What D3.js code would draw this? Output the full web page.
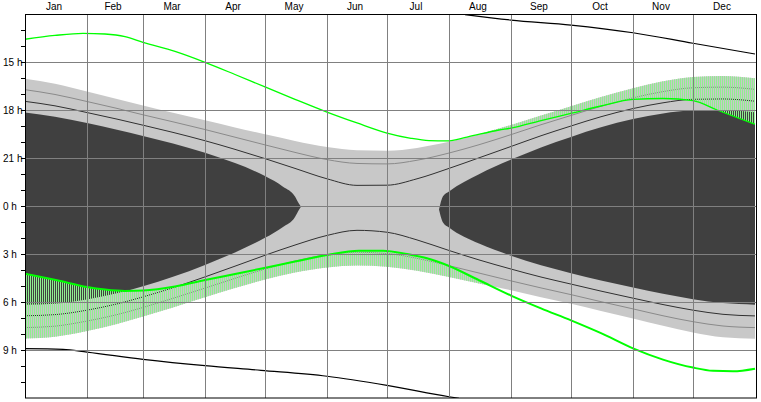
<!DOCTYPE html>
<html><head><meta charset="utf-8">
<script src="https://cdn.jsdelivr.net/npm/d3@7"></script>
<style>html,body{margin:0;padding:0;background:#fff;overflow:hidden;} svg{display:block;} text{font-family:"Liberation Sans",Arial,sans-serif;fill:#000;}</style>
</head><body><svg id="c" width="761" height="402"></svg>
<script>
// ---- data (day of year, Jan 1 = 0; clock hours) ----
const months = ["Jan","Feb","Mar","Apr","May","Jun","Jul","Aug","Sep","Oct","Nov","Dec"];
const monthStarts = [0,31,59,90,120,151,181,212,243,273,304,334,365];
const hourTicks = [13,14,15,16,17,18,19,20,21,22,23,24,25,26,27,28,29,30,31,32,33,34,35];
const labelHours = [15,18,21,24,27,30,33];
const hourLabels = ["15 h","18 h","21 h","0 h","3 h","6 h","9 h"];

const days = [0,15,31,46,59,74,90,105,120,135,151,166,181,196,212,227,243,258,273,288,304,319,334,349,365];
const sunset = [16.04,16.36,16.85,17.31,17.72,18.17,18.64,19.09,19.52,19.93,20.31,20.51,20.54,20.37,19.99,19.52,18.94,18.35,17.77,17.19,16.64,16.21,15.94,15.88,16.02];
const civilDusk = [16.73,17.03,17.47,17.90,18.30,18.74,19.22,19.70,20.18,20.65,21.10,21.34,21.37,21.14,20.69,20.17,19.54,18.92,18.34,17.77,17.24,16.85,16.61,16.57,16.71];
const nauticalDusk = [17.46,17.74,18.16,18.57,18.95,19.40,19.92,20.46,21.04,21.65,22.30,22.71,22.70,22.30,21.65,20.99,20.28,19.61,19.00,18.42,17.91,17.55,17.33,17.31,17.45];
const sunrise = [8.28,8.17,7.82,7.38,6.91,6.34,5.71,5.13,4.59,4.16,3.84,3.72,3.80,4.04,4.43,4.84,5.27,5.70,6.11,6.56,7.03,7.49,7.90,8.20,8.29];
const civilDawn = [7.60,7.51,7.19,6.79,6.34,5.77,5.13,4.52,3.94,3.44,3.05,2.89,2.97,3.27,3.73,4.19,4.68,5.12,5.54,5.98,6.43,6.86,7.23,7.50,7.60];
const nauticalDawn = [6.86,6.79,6.51,6.12,5.68,5.11,4.43,3.76,3.08,2.44,1.84,1.52,1.64,2.12,2.78,3.37,3.94,4.44,4.88,5.32,5.76,6.16,6.51,6.77,6.87];

const astroDaysA = [0,15,31,46,59,74,90,105,120,129,135,137,138];
const astroDuskA = [18.16,18.42,18.82,19.23,19.62,20.09,20.67,21.32,22.13,22.79,23.40,23.86,0.05];
const astroDawnA = [6.17,6.11,5.84,5.46,5.01,4.42,3.68,2.90,1.99,1.31,0.69,0.23,0.05];
const astroDaysB = [207,209,212,227,243,258,273,288,304,319,334,349,365];
const astroDuskB = [0.22,23.39,23.09,22.01,21.10,20.34,19.68,19.08,18.57,18.22,18.02,18.00,18.14];
const astroDawnB = [0.22,1.03,1.34,2.35,3.11,3.71,4.20,4.66,5.10,5.49,5.83,6.07,6.17];

const planetSetDays = [0,15,29,40,50,59,75,90,105,120,135,151,166,181,193,202,211,221,237,243,258,273,288,304,319,334,346,365];
const planetSet = [13.58,13.34,13.21,13.25,13.41,13.77,14.34,15.02,15.78,16.56,17.33,18.13,18.81,19.44,19.77,19.91,19.93,19.69,19.25,19.13,18.66,18.21,17.75,17.34,17.28,17.42,18.0,18.89];
const planetRiseDays = [0,16,31,40,50,59,75,90,105,119,135,151,167,179,191,201,212,227,243,258,273,288,304,319,334,344,354,365];
const planetRise = [4.23,4.64,5.06,5.22,5.31,5.28,5.03,4.63,4.25,3.89,3.47,3.06,2.79,2.79,3.0,3.27,3.75,4.64,5.6,6.4,7.15,7.95,8.9,9.6,10.1,10.3,10.33,10.17];

const objMorningDays = [0,19,31,59,90,118,151,181,212,217];
const objMorning = [8.92,8.96,9.13,9.58,9.98,10.27,10.64,11.21,11.92,12.02];
const objEveningDays = [220,243,273,304,334,365];
const objEvening = [12.04,12.38,12.69,13.17,13.83,14.5];

// ---- drawing ----
const svg = d3.select("#c");
const L = 25, R = 756, T = 14, B = 398;
const x = d3.scaleLinear().domain([0,365]).range([25,755]);
const y = d3.scaleLinear().domain([12,36]).range([T,B]);
const ev = h => y(h < 12 ? h + 24 : h);
const mo = h => y(h + 24);
const curve = d3.curveMonotoneX;
const idx = a => a.map((_, i) => i);

const defs = svg.append("defs");
defs.append("clipPath").attr("id","plot").append("rect")
  .attr("x",L).attr("y",T).attr("width",R-L).attr("height",B-T);

function clipArea(id, dd, top, bottom){
  defs.append("clipPath").attr("id",id).append("path")
    .attr("d", d3.area().curve(curve).x(i=>x(dd[i])).y0(top).y1(bottom)(idx(dd)));
}
// evening hatch: below sunset and above planet set
clipArea("belowSunset", days, i=>ev(sunset[i]), ()=>B+2);
clipArea("aboveSet", planetSetDays, ()=>T-2, i=>ev(planetSet[i]));
// morning hatch: below planet rise and above sunrise
clipArea("belowRise", planetRiseDays, i=>mo(planetRise[i]), ()=>B+2);
clipArea("aboveSunrise", days, ()=>T-2, i=>mo(sunrise[i]));

const g = svg.append("g").attr("clip-path","url(#plot)");

// night (sunset..sunrise)
g.append("path").attr("fill","#c8c8c8")
  .attr("d", d3.area().curve(curve).x(i=>x(days[i])).y0(i=>mo(sunrise[i])).y1(i=>ev(sunset[i]))(idx(days)));
// astronomical night
[[astroDaysA,astroDuskA,astroDawnA],[astroDaysB,astroDuskB,astroDawnB]].forEach(([dd,dk,dw])=>{
  g.append("path").attr("fill","#404040")
    .attr("d", d3.area().curve(curve).x(i=>x(dd[i])).y0(i=>mo(dw[i])).y1(i=>ev(dk[i]))(idx(dd)));
});
// twilight lines
const line = (dd, vals, f) => d3.line().curve(curve).x(i=>x(dd[i])).y(i=>f(vals[i]))(idx(dd));
g.append("path").attr("fill","none").attr("stroke","#8a8a8a").attr("stroke-width",1).attr("d", line(days, civilDusk, ev));
g.append("path").attr("fill","none").attr("stroke","#8a8a8a").attr("stroke-width",1).attr("d", line(days, civilDawn, mo));
g.append("path").attr("fill","none").attr("stroke","#303030").attr("stroke-width",1).attr("d", line(days, nauticalDusk, ev));
g.append("path").attr("fill","none").attr("stroke","#303030").attr("stroke-width",1).attr("d", line(days, nauticalDawn, mo));

// hatch: 1px light-green columns every 2px (one per day column)
const cols = d3.range(L + 1, R, 2);
function hatch(c1, c2){
  const hg = g.append("g").attr("clip-path","url(#"+c1+")").append("g").attr("clip-path","url(#"+c2+")");
  hg.selectAll("rect").data(cols).join("rect")
    .attr("x", d=>d).attr("y",T).attr("width",1).attr("height",B-T)
    .attr("fill","#90ee90").attr("shape-rendering","crispEdges");
}
hatch("belowSunset","aboveSet");
hatch("belowRise","aboveSunrise");

// grid
const grid = svg.append("g").attr("stroke","#808080").attr("stroke-width",1).attr("shape-rendering","crispEdges");
monthStarts.slice(1,12).forEach(d=>{
  const px = Math.round(x(d)) + 0.5;
  grid.append("line").attr("x1",px).attr("x2",px).attr("y1",T).attr("y2",B);
});
labelHours.forEach(h=>{
  const py = Math.round(y(h)) + 0.5;
  grid.append("line").attr("x1",L).attr("x2",R).attr("y1",py).attr("y2",py);
});

// object lines
g.append("path").attr("fill","none").attr("stroke","#000").attr("stroke-width",1.2).attr("d", line(objMorningDays, objMorning, mo));
g.append("path").attr("fill","none").attr("stroke","#000").attr("stroke-width",1.2).attr("d", line(objEveningDays, objEvening, ev));
// planet lines
g.append("path").attr("fill","none").attr("stroke","#00ff00").attr("stroke-width",1.3).attr("d", line(planetSetDays, planetSet, ev));
g.append("path").attr("fill","none").attr("stroke","#00ff00").attr("stroke-width",2).attr("d", line(planetRiseDays, planetRise, mo));

// frame
svg.append("rect").attr("x",L+0.5).attr("y",T+0.5).attr("width",R-L).attr("height",B-T-0.5)
  .attr("fill","none").attr("stroke","#000").attr("stroke-width",1);

// y ticks and labels
const ax = svg.append("g");
hourTicks.forEach(h=>{
  const py = Math.round(y(h)) + 0.5;
  ax.append("line").attr("x1",L-4).attr("x2",L).attr("y1",py).attr("y2",py).attr("stroke","#000");
});
labelHours.forEach((h,i)=>{
  ax.append("text").attr("x",3).attr("y",Math.round(y(h))+4).attr("font-size",10).text(hourLabels[i]);
});
// month labels
months.forEach((m,i)=>{
  const mid = (monthStarts[i] + monthStarts[i+1]) / 2 - 1;
  ax.append("text").attr("x",x(mid)).attr("y",10).attr("text-anchor","middle").attr("font-size",10).text(m);
});
</script></body></html>
